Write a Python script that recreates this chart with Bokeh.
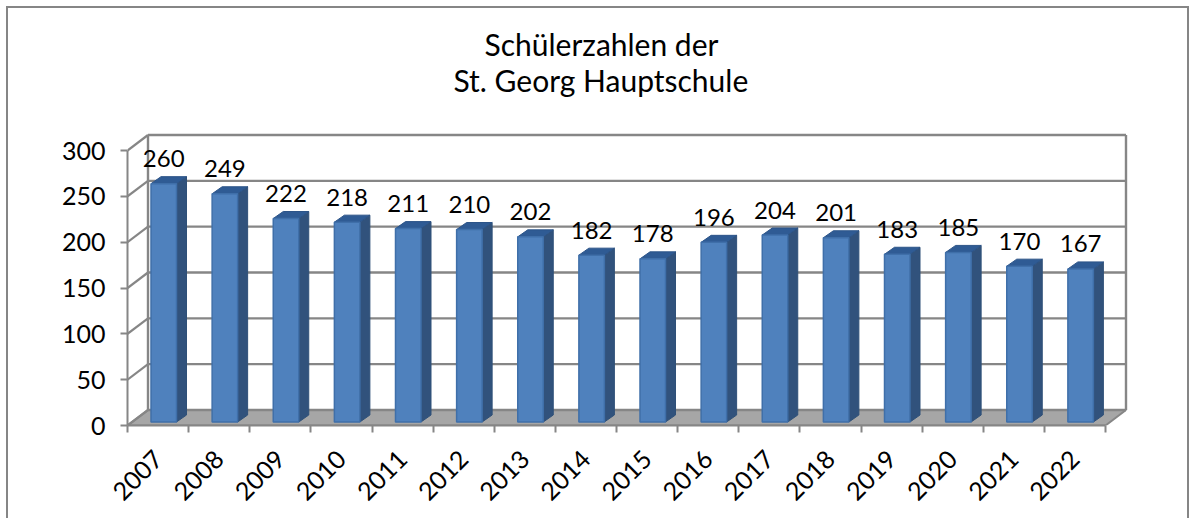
from bokeh.plotting import figure
from bokeh.embed import file_html
from bokeh.resources import INLINE
from bokeh.models import Range1d, LinearAxis, FixedTicker, Title, InlineStyleSheet
from bokeh.core.properties import value
import math

years = ["2007","2008","2009","2010","2011","2012","2013","2014","2015","2016","2017","2018","2019","2020","2021","2022"]
pupils = [260,249,222,218,211,210,202,182,178,196,204,201,183,185,170,167]
y_ticks = [0,50,100,150,200,250,300]
title_lines = ["Schülerzahlen der", "St. Georg Hauptschule"]

FONT = "Lato"
GRAY = "#868686"
W, H = 1190, 518
L, R, T, B = 127, 1130, 130, 425
xu = (1105 - 127) / 16      # px per category
yu = (425 - 150) / 300      # px per pupil
DX, DY = 20.5 / xu, 15.5 / yu      # chart depth
BX, BY = 10 / xu, 7 / yu           # bar depth
B0, B1 = 23.5 / xu, 49 / xu        # bar front face inside a category
BB = 3.5 / yu                      # bar foot above the front edge
n = len(years)

p = figure(width=W, height=H, output_backend="svg", toolbar_location=None,
           x_range=Range1d(0, (R - L) / xu), y_range=Range1d(0, (B - T) / yu),
           x_axis_type=None, y_axis_type=None,
           min_border_left=L, min_border_right=W - R, min_border_top=T, min_border_bottom=H - B,
           outline_line_color=None, background_fill_color="white", border_fill_color="white",
           margin=(0, 0, 0, 0))
p.grid.visible = False

# floor
p.patch([0, n, n + DX, DX], [0, 0, DY, DY], fill_color="#a6a6a6", line_color=GRAY, line_width=2)
# back wall grid and side wall lines
p.multi_line([[DX, n + DX] for _ in y_ticks], [[v + DY, v + DY] for v in y_ticks], line_color=GRAY, line_width=2.4)
p.multi_line([[0, DX] for _ in y_ticks], [[v, v + DY] for v in y_ticks], line_color=GRAY, line_width=2.2)
p.multi_line([[DX, DX], [n + DX, n + DX]], [[DY, y_ticks[-1] + DY]] * 2, line_color=GRAY, line_width=2.4)

xl = [i + B0 for i in range(n)]
xr = [i + B1 for i in range(n)]
tops = [v + BB for v in pupils]
p.patches([[r, r + BX, r + BX, r] for r in xr],
          [[BB, BB + BY, t + BY, t] for t in tops],
          fill_color="#31527c", line_color="#2f5078", line_width=1)
p.patches([[l, l + BX, r + BX, r] for l, r in zip(xl, xr)],
          [[t, t + BY, t + BY, t] for t in tops],
          fill_color="#2f5b94", line_color="#2c5488", line_width=1)
p.quad(left=xl, right=xr, bottom=BB, top=tops, fill_color="#4f81bd", line_color="#3f6fa9", line_width=1.5)

p.text(x=[(l + r) / 2 for l, r in zip(xl, xr)], y=[t + BY for t in tops], text=[str(v) for v in pupils],
       text_font=value(FONT), text_font_size="24px", text_color="black", text_align="center",
       text_baseline="alphabetic", y_offset=-18)

xa = LinearAxis(ticker=FixedTicker(ticks=[i + 0.5 for i in range(n)], minor_ticks=list(range(n + 1))),
                bounds=(0, n), major_label_overrides={i + 0.5: y for i, y in enumerate(years)},
                major_label_orientation=math.pi / 4, major_label_text_font=FONT,
                major_label_text_font_size="25px", major_label_text_color="black",
                major_tick_line_color=None, major_tick_out=7, major_tick_in=0,
                minor_tick_out=7, minor_tick_in=0, minor_tick_line_color=GRAY, minor_tick_line_width=2,
                axis_line_color=GRAY, axis_line_width=2, major_label_standoff=22)
p.add_layout(xa, "below")
ya = LinearAxis(ticker=FixedTicker(ticks=y_ticks), bounds=(0, 300), major_label_text_font=FONT,
                major_label_text_font_size="25px", major_label_text_color="black",
                major_tick_out=7, major_tick_in=0, major_tick_line_color=GRAY, major_tick_line_width=2,
                minor_tick_line_color=None, axis_line_color=GRAY, axis_line_width=2, major_label_standoff=15)
p.add_layout(ya, "left")

p.add_layout(Title(text=title_lines[1], align="left", offset=326, standoff=65, text_font=FONT,
                   text_font_size="30px", text_font_style="normal", text_color="black"), "above")
p.add_layout(Title(text=title_lines[0], align="left", offset=357, standoff=-69, text_font=FONT,
                   text_font_size="30px", text_font_style="normal", text_color="black"), "above")

p.stylesheets = [InlineStyleSheet(css=":host::after{content:'';position:absolute;left:6px;top:6px;width:1179px;"
                                      "height:512px;border:2px solid #868686;border-bottom:none;"
                                      "box-sizing:content-box;pointer-events:none}")]

open("out.html", "w").write(file_html(p, INLINE))
